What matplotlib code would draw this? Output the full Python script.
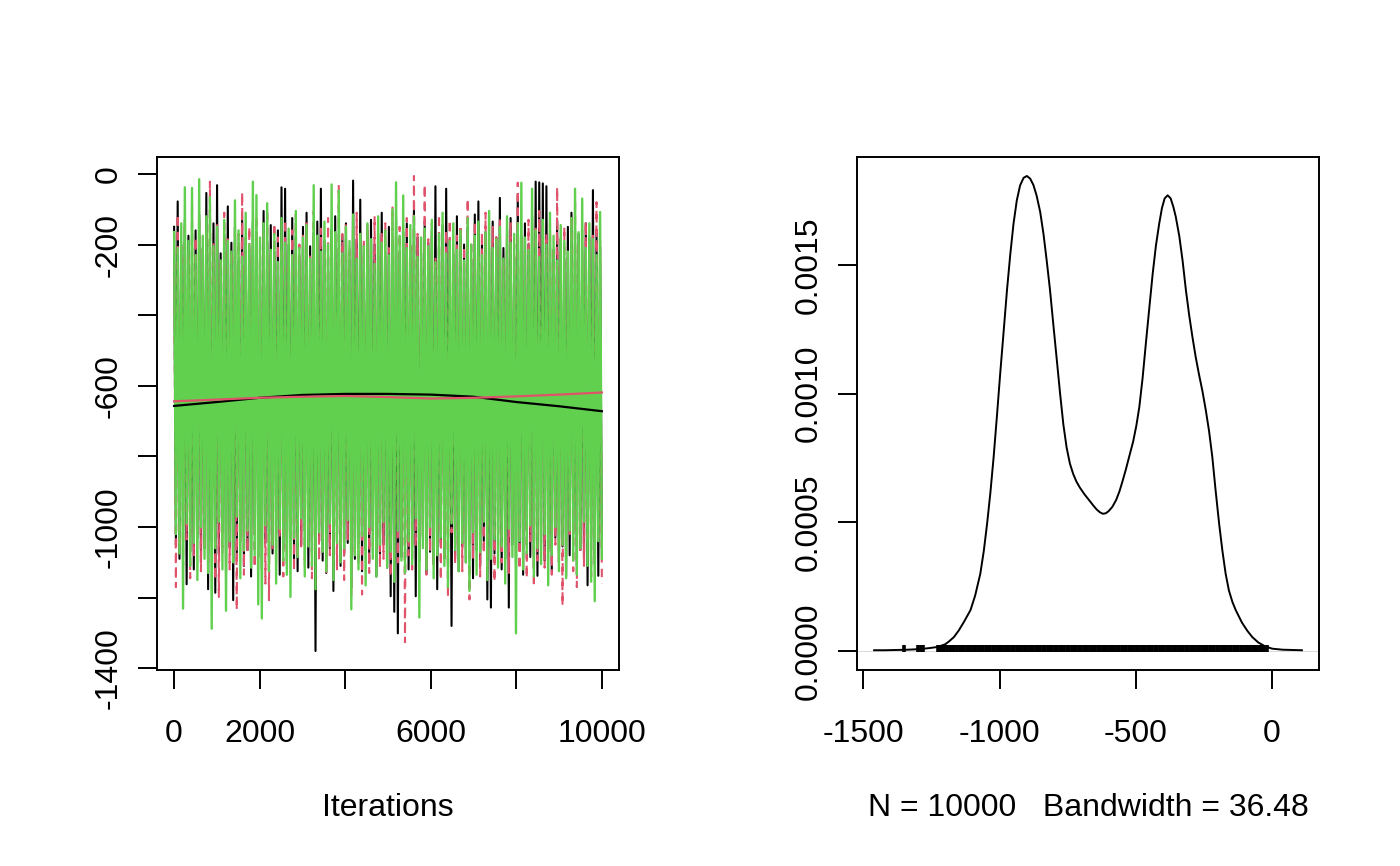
import numpy as np
import matplotlib
matplotlib.use("Agg")
import matplotlib.pyplot as plt

plt.rcParams['font.family'] = ['Liberation Sans', 'DejaVu Sans']
FS = 23

# ---- trace plot: three chains, read as alternating highs / lows ----
black_hi = [-150, -78, -200, -130, -175, -240, -160, -115, -210, -54, -185, -140, -32, -225, -170, -92,
            -195, -150, -250, -120, -180, -215, -135, -165, -230, -105, -190, -145, -220, -160, -38, -42,
            -200, -125, -175, -240, -150, -110, -205, -165, -135, -42, -190, -230, -155, -120, -210, -175,
            -140, -245, -19, -185, -73, -215, -160, -130, -200, -170, -110, -235, -150, -190, -125, -220,
            -165, -140, -205, -100, -180, -240, -135, -195, -160, -35, -210, -145, -42, -185, -230, -120,
            -170, -200, -150, -245, -115, -78, -190, -165, -220, -135, -180, -68, -210, -155, -125, -235,
            -62, -175, -140, -200, -120, -22, -24, -27, -35, -160, -215, -130, -185, -240, -150, -110,
            -195, -170, -225, -140, -180, -46, -160, -205]
black_lo = [-1050, -1090, -1010, -1162, -1070, -1120, -1030, -1100, -1060, -1176, -1040, -1186, -1080, -1015,
            -1130, -1055, -1207, -1095, -1025, -1110, -1065, -1140, -1000, -1085, -1120, -1045, -1100, -1075,
            -1015, -1135, -1060, -1105, -1035, -1090, -1125, -1050, -1010, -1115, -1070, -1351, -1040, -1095,
            -1130, -1060, -1181, -1020, -1110, -1080, -1045, -1170, -1090, -1030, -1125, -1065, -1100, -1010,
            -1140, -1075, -1050, -1115, -1196, -1240, -1301, -1085, -1035, -1120, -1060, -1196, -1095, -1025,
            -1130, -1070, -1105, -1176, -1045, -1090, -1015, -1280, -1080, -1125, -1055, -1100, -1030, -1145,
            -1065, -1110, -1040, -1205, -1228, -1075, -1020, -1120, -1090, -1228, -1050, -1105, -1060, -1135,
            -1010, -1085, -1115, -1138, -1045, -1095, -1070, -1125, -1030, -1100, -1055, -1140, -1080, -1020,
            -1110, -1065, -1090, -1165, -1040, -1105, -1138, -1075]

red_hi = [-170, -114, -205, -140, -230, -82, -180, -125, -215, -160, -22, -195, -145, -240, -110, -185,
          -220, -135, -170, -52, -205, -150, -235, -120, -190, -165, -100, -225, -140, -180, -210, -130,
          -245, -160, -115, -200, -175, -140, -230, -105, -190, -155, -215, -125, -180, -240, -30, -170,
          -135, -205, -160, -110, -225, -185, -145, -200, -120, -235, -165, -140, -210, -95, -180, -150,
          -230, -125, -195, -6, -170, -215, -30, -185, -140, -240, -115, -200, -160, -130, -225, -175,
          -145, -205, -70, -190, -135, -235, -165, -110, -210, -150, -180, -125, -245, -160, -140, -200,
          -25, -175, -220, -130, -190, -155, -105, -230, -170, -140, -210, -38, -185, -150, -225, -120,
          -70, -195, -160, -135, -215, -175, -80, -190]
red_lo = [-1170, -1060, -1110, -1035, -1145, -1080, -1020, -1125, -1065, -1100, -1040, -1150, -1198, -1075,
          -1015, -1120, -1090, -1235, -1050, -1135, -1070, -1010, -1115, -1085, -1045, -1160, -1207, -1060,
          -1100, -1030, -1140, -1075, -1020, -1125, -1090, -1055, -1110, -1000, -1145, -1065, -1095, -1040,
          -1130, -1080, -1015, -1120, -1060, -1150, -1035, -1191, -1085, -1105, -1191, -1050, -1130, -1070,
          -1010, -1115, -1090, -1045, -1140, -1065, -1100, -1025, -1326, -1080, -1120, -1055, -1095, -1030,
          -1135, -1070, -1110, -1040, -1150, -1085, -1200, -1015, -1105, -1060, -1125, -1045, -1205, -1090,
          -1020, -1140, -1075, -1110, -1035, -1155, -1065, -1100, -1050, -1130, -1010, -1085, -1120, -1060,
          -1145, -1040, -1170, -1095, -1025, -1115, -1070, -1135, -1050, -1100, -1223, -1080, -1020, -1125,
          -1170, -1065, -1110, -1045, -1140, -1090, -1030, -1160]

green_hi = [-165, -210, -140, -38, -190, -40, -230, -15, -175, -120, -66, -205, -150, -245, -130, -190,
            -220, -75, -160, -235, -110, -200, -22, -60, -180, -140, -83, -215, -170, -250, -125, -195,
            -155, -230, -105, -210, -180, -145, -240, -32, -175, -220, -135, -200, -30, -165, -48, -225,
            -150, -190, -115, -240, -170, -205, -140, -185, -255, -120, -195, -160, -230, -100, -24, -175,
            -61, -210, -145, -120, -235, -180, -155, -205, -130, -250, -170, -110, -225, -190, -140, -215,
            -160, -245, -125, -200, -175, -135, -230, -165, -105, -210, -185, -150, -240, -120, -195, -170,
            -140, -25, -180, -215, -42, -160, -235, -130, -200, -110, -175, -245, -145, -190, -220, -125,
            -42, -165, -70, -210, -140, -185, -230, -108]
green_lo = [-1020, -1075, -1231, -990, -1110, -1045, -1150, -1000, -1090, -1130, -1288, -1060, -985, -1120,
            -1237, -1040, -1100, -970, -1145, -1065, -1010, -1115, -1080, -1219, -1259, -995, -1125, -1050,
            -1160, -1005, -1095, -1135, -1198, -1030, -1085, -975, -1140, -1055, -1110, -1176, -1015, -1070,
            -1125, -990, -1150, -1045, -1100, -1060, -980, -1233, -1080, -1120, -1025, -1165, -1000, -1090,
            -1140, -1050, -985, -1115, -1070, -1155, -1010, -1095, -1130, -1040, -1105, -975, -1256, -1060,
            -1120, -1000, -1145, -1080, -1030, -1110, -1170, -990, -1065, -1125, -1045, -1100, -1181, -1015,
            -1135, -1070, -985, -1150, -1090, -1035, -1115, -1055, -1160, -1005, -1085, -1301, -1040, -1120,
            -1075, -995, -1140, -1060, -1105, -1020, -1165, -1080, -1000, -1125, -1050, -1145, -1010, -1095,
            -1135, -1060, -985, -1110, -1155, -1210, -1040, -1090]

# lowess smooth of each chain
smooth_iter = [0, 1000, 2000, 3000, 4000, 5000, 6000, 7000, 8000, 9000, 10000]
black_smooth = [-657, -646, -634, -626, -623, -623, -625, -631, -646, -658, -672]
red_smooth = [-644, -639, -634, -631, -629, -632, -636, -634, -630, -625, -619]

# ---- density plot ----
dens_x = [-1461, -1420, -1380, -1339, -1300, -1260, -1229, -1200, -1185, -1168, -1150, -1130, -1107,
          -1090, -1071, -1058, -1046, -1034, -1022, -1010, -998, -985, -973, -961, -949, -937, -925,
          -912, -900, -888, -876, -864, -851, -839, -827, -815, -803, -790, -778, -766, -754, -742,
          -730, -718, -705, -688, -670, -656, -644, -632, -621, -610, -600, -586, -572, -560, -548,
          -536, -523, -510, -498, -487, -475, -463, -450, -438, -426, -414, -404, -394, -383, -372,
          -362, -353, -340, -328, -316, -304, -292, -280, -268, -255, -243, -231, -219, -207, -194,
          -182, -170, -158, -145, -133, -110, -90, -72, -50, -25, 1, 40, 110]
dens_y = [0.000003, 0.000003, 0.000004, 0.000005, 0.000007, 0.000011, 0.0000155, 0.000026, 0.000038,
          0.000054, 0.000080, 0.000115, 0.000159, 0.000215, 0.000300, 0.000390, 0.000495, 0.000615,
          0.000754, 0.000912, 0.001077, 0.001245, 0.001402, 0.001540, 0.001660, 0.001750, 0.001808,
          0.001838, 0.001845, 0.001835, 0.001810, 0.001768, 0.001705, 0.001620, 0.001515, 0.001402,
          0.001270, 0.001130, 0.001000, 0.000880, 0.000790, 0.000728, 0.000688, 0.000658, 0.000634,
          0.000608, 0.000584, 0.000565, 0.000550, 0.000539, 0.000533, 0.000535, 0.000543, 0.000560,
          0.000587, 0.000620, 0.000662, 0.000707, 0.000760, 0.000812, 0.000875, 0.000948, 0.001060,
          0.001195, 0.001336, 0.001465, 0.001575, 0.001660, 0.001720, 0.001758, 0.001770, 0.001758,
          0.001725, 0.001686, 0.001610, 0.001515, 0.001402, 0.001305, 0.001220, 0.001142, 0.001075,
          0.001008, 0.000936, 0.000855, 0.000754, 0.000625, 0.000495, 0.000390, 0.000300, 0.000235,
          0.000190, 0.000159, 0.000110, 0.000078, 0.000054, 0.000033, 0.000018, 0.000009, 0.000005,
          0.000003]
rug_sparse = [-1351, -1301, -1288, -1280, -1226, -1218]
rug_dense = [-1211, -1203, -1192, -1184, -1175, -1166, -1158, -1147, -1139, -1130, -1121, -1112, -1104,
             -1095, -1086, -1077, -1069, -1060, -1051, -1042, -1034, -1025, -1016, -1007, -999, -990,
             -981, -972, -964, -955, -946, -937, -929, -920, -911, -902, -894, -885, -876, -867, -859,
             -850, -841, -832, -824, -815, -806, -797, -789, -780, -771, -762, -754, -745, -736, -727,
             -719, -710, -701, -692, -684, -675, -666, -657, -649, -640, -631, -622, -614, -605, -596,
             -587, -579, -570, -561, -552, -544, -535, -526, -517, -509, -500, -491, -482, -474, -465,
             -456, -447, -439, -430, -421, -412, -404, -395, -386, -377, -369, -360, -351, -342, -334,
             -325, -316, -307, -299, -290, -281, -272, -264, -255, -246, -237, -229, -220, -211, -202,
             -194, -185, -176, -167, -159, -150, -141, -132, -124, -115, -106, -97, -89, -80, -71, -62,
             -54, -45, -36, -28, -19]


def interleave(hi, lo):
    return np.column_stack([hi, lo]).ravel()


def r_range(lo, hi):
    # R default 4% axis extension
    d = (hi - lo) * 0.04
    return lo - d, hi + d


def r_style(ax, xt, xl, yt, yl, xpad=21, ypad=10):
    for s in ax.spines.values():
        s.set_linewidth(1.4)
    ax.tick_params(direction='out', length=14, width=1.4, labelsize=FS)
    ax.tick_params(axis='x', pad=xpad)
    ax.tick_params(axis='y', pad=ypad)
    ax.set_xticks(xt)
    ax.set_xticklabels(xl)
    ax.set_yticks(yt)
    ax.set_yticklabels(yl, rotation=90, va='center')


W, H = 1400, 866
fig = plt.figure(figsize=(14, 8.66), dpi=100)
ax1 = fig.add_axes([157 / W, 1 - 670 / H, 462 / W, 513 / H])
ax2 = fig.add_axes([857 / W, 1 - 670 / H, 462 / W, 513 / H])

chains = [
    (interleave(black_hi, black_lo), 'black', '-', 1.5),
    (interleave(red_hi, red_lo), '#DF536B', (0, (4, 3)), 1.5),
    (interleave(green_hi, green_lo), '#61D04F', '-', 1.7),
]
iters = np.linspace(1, 10000, len(chains[0][0]))
allv = np.concatenate([c[0] for c in chains])
for vals, col, ls, lw in chains:
    ax1.plot(iters, vals, color=col, ls=ls, lw=lw)
ax1.plot(smooth_iter, black_smooth, color='black', lw=1.6)
ax1.plot(smooth_iter, red_smooth, color='#DF536B', lw=1.6)
ax1.set_xlim(*r_range(1, 10000))
ax1.set_ylim(*r_range(allv.min(), allv.max()))
r_style(ax1, [0, 2000, 4000, 6000, 8000, 10000], ['0', '2000', '', '6000', '', '10000'],
        [0, -200, -400, -600, -800, -1000, -1200, -1400],
        ['0', '-200', '', '-600', '', '-1000', '', '-1400'])

ax2.axhline(0, color='#BEBEBE', lw=0.4, zorder=0)
ax2.plot(dens_x, dens_y, color='black', lw=1.4)
ax2.vlines(rug_sparse + rug_dense, -0.000002, 0.000023, color='black', lw=2.6)
ax2.set_xlim(*r_range(min(dens_x), max(dens_x)))
ax2.set_ylim(*r_range(0, max(dens_y)))
r_style(ax2, [-1500, -1000, -500, 0], ['-1500', '-1000', '-500', '0'],
        [0, 0.0005, 0.0010, 0.0015], ['0.0000', '0.0005', '0.0010', '0.0015'])

fig.text(388 / W, 1 - 816 / H, 'Iterations', ha='center', va='baseline', fontsize=FS)
fig.text(1088 / W, 1 - 816 / H, 'N = 10000   Bandwidth = 36.48', ha='center', va='baseline', fontsize=FS)

fig.savefig('out.png', dpi=100)
